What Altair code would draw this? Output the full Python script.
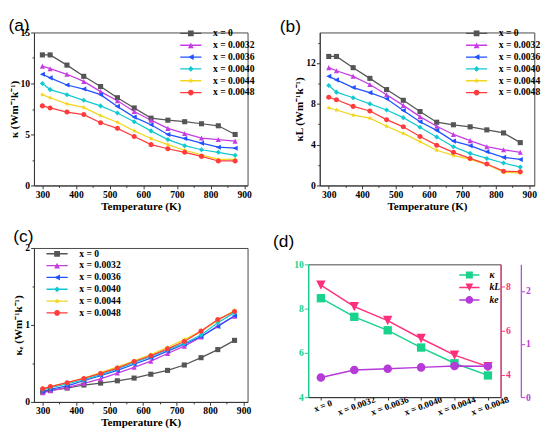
import math
import altair as alt
import pandas as pd

# ---------------- data ----------------
T = [300, 323, 373, 423, 473, 523, 573, 623, 673, 723, 773, 823, 873]
series = ["x = 0", "x = 0.0032", "x = 0.0036", "x = 0.0040", "x = 0.0044", "x = 0.0048"]

# (a) total thermal conductivity
ka_0 = [12.8, 12.8, 11.8, 10.7, 9.7, 8.6, 7.6, 6.6, 6.4, 6.25, 6.05, 5.85, 5.0]
ka_32 = [11.7, 11.45, 10.9, 10.2, 9.2, 8.3, 7.25, 6.4, 5.6, 5.1, 4.65, 4.5, 4.35]
ka_36 = [10.9, 10.55, 9.85, 9.45, 8.9, 7.75, 6.7, 5.95, 5.0, 4.6, 4.15, 3.75, 3.65]
ka_40 = [10.0, 9.4, 8.9, 8.35, 7.8, 7.1, 6.25, 5.35, 4.5, 3.9, 3.5, 3.25, 2.95]
ka_44 = [8.9, 8.6, 8.0, 7.65, 6.85, 6.2, 5.35, 4.6, 4.0, 3.45, 3.0, 2.55, 2.55]
ka_48 = [7.8, 7.6, 7.2, 6.95, 6.15, 5.6, 4.8, 4.0, 3.6, 3.25, 2.85, 2.4, 2.4]

# (b) lattice thermal conductivity
kb_0 = [12.65, 12.65, 11.55, 10.5, 9.4, 8.35, 7.25, 6.2, 5.95, 5.75, 5.45, 5.15, 4.2]
kb_32 = [11.55, 11.25, 10.7, 9.9, 8.9, 7.85, 6.75, 5.8, 5.0, 4.4, 3.8, 3.5, 3.25]
kb_36 = [10.7, 10.35, 9.6, 9.1, 8.5, 7.35, 6.25, 5.4, 4.35, 3.9, 3.3, 2.75, 2.55]
kb_40 = [9.8, 9.15, 8.6, 8.0, 7.4, 6.65, 5.7, 4.75, 3.8, 3.15, 2.65, 2.2, 1.8]
kb_44 = [7.6, 7.4, 6.9, 6.6, 5.8, 5.1, 4.3, 3.45, 2.95, 2.55, 2.05, 1.3, 1.2]
kb_48 = [8.65, 8.4, 7.75, 7.3, 6.45, 5.75, 4.8, 3.95, 3.25, 2.65, 2.1, 1.4, 1.35]

# (c) electronic thermal conductivity
kc_0 = [0.13, 0.15, 0.18, 0.22, 0.245, 0.275, 0.31, 0.36, 0.41, 0.48, 0.575, 0.68, 0.8]
kc_32 = [0.12, 0.145, 0.19, 0.24, 0.30, 0.375, 0.45, 0.53, 0.63, 0.725, 0.845, 0.99, 1.115]
kc_36 = [0.135, 0.165, 0.21, 0.275, 0.34, 0.41, 0.49, 0.57, 0.66, 0.75, 0.85, 0.98, 1.12]
kc_40 = [0.16, 0.185, 0.235, 0.29, 0.355, 0.43, 0.51, 0.59, 0.68, 0.76, 0.87, 1.03, 1.16]
kc_44 = [0.17, 0.2, 0.25, 0.31, 0.38, 0.455, 0.535, 0.615, 0.71, 0.81, 0.92, 1.06, 1.19]
kc_48 = [0.17, 0.2, 0.25, 0.305, 0.37, 0.44, 0.525, 0.6, 0.69, 0.785, 0.92, 1.07, 1.175]

# (d) values versus composition
cats = ["x = 0", "x = 0.0032", "x = 0.0036", "x = 0.0040", "x = 0.0044", "x = 0.0048"]
kd_total = [8.47, 7.63, 7.02, 6.24, 5.53, 4.98]
kd_lat = [8.06, 7.09, 6.46, 5.65, 4.90, 4.38]
kd_el = [0.37, 0.51, 0.535, 0.56, 0.585, 0.58]
d_names = ["κ", "kL", "ke"]

# ---------------- styles ----------------
colors = ["#555555", "#c63ce2", "#2152ff", "#12c9d2", "#f2d61e", "#ff3c3c"]
TEAL, PINK, PURPLE = "#17d38c", "#ff2f7c", "#b53ad8"
SERIF = "Liberation Serif"


def f(v):
    return f"{v:.3f}"


def sq(r):
    return f"M{f(-r)},{f(-r)}H{f(r)}V{f(r)}H{f(-r)}Z"


def tri_up(r):
    return f"M0,{f(-r)}L{f(r)},{f(r)}L{f(-r)},{f(r)}Z"


def tri_down(r):
    return f"M{f(-r)},{f(-r)}L{f(r)},{f(-r)}L0,{f(r)}Z"


def tri_left(r):
    return f"M{f(-r)},0L{f(r)},{f(-r)}L{f(r)},{f(r)}Z"


def diamond(r):
    return f"M0,{f(-r)}L{f(r)},0L0,{f(r)}L{f(-r)},0Z"


def star(r):
    pts = []
    for i in range(10):
        a = math.radians(-90 + 36 * i)
        rr = r if i % 2 == 0 else r * 0.45
        pts.append(f"{f(rr * math.cos(a))},{f(rr * math.sin(a))}")
    return "M" + "L".join(pts) + "Z"


def circ(r):
    return f"M{f(r)},0A{f(r)},{f(r)} 0 1,1 {f(-r)},0A{f(r)},{f(r)} 0 1,1 {f(r)},0Z"


def with_line(p, half_len, t):
    return f"M{f(-half_len)},{f(-t)}H{f(half_len)}V{f(t)}H{f(-half_len)}Z" + p


shape_fns = [sq, tri_up, tri_left, diamond, star, circ]
plot_shapes = [fn(1.0) for fn in shape_fns]
# legend symbols: size 36 -> 3 px per path unit; line 22 px long
legend_shapes = [with_line(fn(1.0), 3.667, 0.23) for fn in shape_fns]


def long_df(lists):
    rows = []
    for s, vals in zip(series, lists):
        for t, v in zip(T, vals):
            rows.append({"T": t, "v": v, "s": s})
    return pd.DataFrame(rows)


def is_major(step):
    return f"abs(datum.value / {step} - round(datum.value / {step})) < 0.001"


def tick_cond(step):
    return {"condition": {"test": is_major(step), "value": 3.5}, "value": 2}


def label_expr(step):
    return f"{is_major(step)} ? format(datum.value, '~g') : ''"


def ptitle(text, dx, offset):
    return alt.Title(text, anchor="start", frame="bounds", font="Liberation Sans",
                     fontSize=18, fontWeight="normal", offset=offset, dx=dx)


def tpanel(lists, ydom, yvals, ystep, ytitle, xdom, title, lox, loy, w, h, tdx, toff, field):
    df = long_df(lists).rename(columns={"s": field})
    fld = f"{field}:N"
    x = alt.X("T:Q", scale=alt.Scale(domain=xdom, nice=False, zero=False),
              axis=alt.Axis(values=list(range(300, 901, 50)), labelExpr=label_expr(100),
                            tickSize=tick_cond(100), title="Temperature (K)"))
    y = alt.Y("v:Q", scale=alt.Scale(domain=ydom, nice=False, zero=False),
              axis=alt.Axis(values=yvals, labelExpr=label_expr(ystep),
                            tickSize=tick_cond(ystep), title=ytitle))
    cs = alt.Scale(domain=series, range=colors)
    base = alt.Chart(df)
    lines = base.mark_line(strokeWidth=1.3).encode(
        x=x, y=y, color=alt.Color(fld, scale=cs, legend=None))
    pts = base.mark_point(filled=True, size=28, opacity=1).encode(
        x=x, y=y, color=alt.Color(fld, scale=cs, legend=None),
        shape=alt.Shape(fld, scale=alt.Scale(domain=series, range=plot_shapes), legend=None))
    leg = alt.Legend(title=None, orient="none", legendX=lox, legendY=loy,
                     symbolSize=36, symbolOffset=8, symbolOpacity=1, symbolStrokeWidth=0,
                     labelFont=SERIF, labelFontWeight="bold", labelFontSize=10,
                     labelColor="black", labelOffset=18, rowPadding=2.3, padding=0)
    dummy = alt.Chart(pd.DataFrame({field: series})).mark_point(filled=True, opacity=0).encode(
        color=alt.Color(fld, scale=cs, legend=leg),
        shape=alt.Shape(fld, scale=alt.Scale(domain=series, range=legend_shapes), legend=leg))
    return alt.layer(lines, pts, dummy).resolve_scale(
        color="independent", shape="independent").properties(
        width=w, height=h, title=ptitle(title, tdx, toff))


pa = tpanel([ka_0, ka_32, ka_36, ka_40, ka_44, ka_48], [0, 15],
            [0, 2.5, 5, 7.5, 10, 12.5, 15], 5, "κ (Wm⁻¹k⁻¹)", [275, 910], "(a)",
            150, -4, 222, 159, 0, -7, "sa")
pb = tpanel([kb_0, kb_32, kb_36, kb_40, kb_44, kb_48], [0, 15],
            [0, 2, 4, 6, 8, 10, 12, 14], 4, "κL (Wm⁻¹k⁻¹)", [273, 915], "(b)",
            150, -4, 223, 159, -15, -7, "sb")
pc = tpanel([kc_0, kc_32, kc_36, kc_40, kc_44, kc_48], [0, 2],
            [0, 0.5, 1, 1.5, 2], 1, "κₑ (Wm⁻¹k⁻¹)", [274, 912], "(c)",
            11, 1, 222, 160, 0, -3, "sc")

# ---------------- panel (d) ----------------
df_total = pd.DataFrame({"c": cats, "v": kd_total})
df_lat = pd.DataFrame({"c": cats, "v": kd_lat})
df_el = pd.DataFrame({"c": cats, "v": kd_el})

xd = alt.X("c:N", sort=cats, scale=alt.Scale(type="point", padding=0.38),
           axis=alt.Axis(title=None, labelAngle=-20, labelAlign="center", labelBaseline="top",
                         labelFontSize=9.5, labelPadding=1, tickSize=3))


def yaxis(color, orient, values, offset=0):
    return alt.Axis(orient=orient, values=values, title=None, labelColor=color,
                    domainColor=color, tickColor=color, tickSize=4, offset=offset,
                    domainWidth=1.2, labelFontSize=10)


def dlayer(df, dom, ax, color, shape, size):
    y = alt.Y("v:Q", scale=alt.Scale(domain=dom, nice=False, zero=False), axis=ax)
    ln = alt.Chart(df).mark_line(color=color, strokeWidth=1.5).encode(x=xd, y=y)
    pt = alt.Chart(df).mark_point(color=color, filled=True, opacity=1, shape=shape, size=size).encode(x=xd, y=y)
    return alt.layer(ln, pt)


l_total = dlayer(df_total, [4, 10], yaxis(TEAL, "left", [4, 6, 8, 10]), TEAL, sq(1.0), 75)
l_lat = dlayer(df_lat, [3, 9], yaxis(PINK, "right", [4, 6, 8]), PINK, tri_down(1.0), 95)
l_el = dlayer(df_el, [0, 2.5], yaxis(PURPLE, "right", [0, 1, 2], offset=21), PURPLE, circ(1.0), 80)

# legend symbols: size 64 -> 4 px per path unit; line 21 px long
legd = alt.Legend(title=None, orient="none", legendX=156, legendY=6,
                  symbolSize=64, symbolOffset=6.5, symbolOpacity=1, symbolStrokeWidth=0,
                  labelFont=SERIF, labelFontWeight="bold", labelFontStyle="italic",
                  labelFontSize=10, labelColor="black", labelOffset=16, rowPadding=3, padding=0)
d_leg_shapes = [with_line(sq(0.9), 2.625, 0.19), with_line(tri_down(1.0), 2.625, 0.19),
                with_line(circ(1.0), 2.625, 0.19)]
dummy_d = alt.Chart(pd.DataFrame({"sd": d_names})).mark_point(filled=True, opacity=0).encode(
    color=alt.Color("sd:N", scale=alt.Scale(domain=d_names, range=[TEAL, PINK, PURPLE]), legend=legd),
    shape=alt.Shape("sd:N", scale=alt.Scale(domain=d_names, range=d_leg_shapes), legend=legd))

pd_plot = alt.layer(l_total, l_lat, l_el, dummy_d).resolve_scale(
    y="independent", color="independent", shape="independent").properties(width=200, height=138)

spacer = alt.Chart(pd.DataFrame({"z": [0]})).mark_point(opacity=0).encode(
    x=alt.X("z:Q", axis=None), y=alt.Y("z:Q", axis=None)).properties(
    width=200, height=11, view=alt.ViewBackground(strokeOpacity=0))

pd_ = alt.vconcat(spacer, pd_plot, spacing=0).properties(title=ptitle("(d)", -21, -3))

row1 = alt.hconcat(pa, pb, spacing=24)
row2 = alt.hconcat(pc, pd_, spacing=22)
chart = alt.vconcat(row1, row2, spacing=16).properties(
    padding={"left": 0, "top": 0, "right": 0, "bottom": 0}
).configure_view(stroke="#444444", strokeWidth=1).configure_axis(
    labelFont=SERIF, labelFontWeight="bold", labelFontSize=10, labelColor="black",
    titleFont=SERIF, titleFontWeight="bold", titleFontSize=11.5, titleColor="black",
    domainColor="#333333", tickColor="#333333", grid=False, zindex=1, titlePadding=1,
    labelPadding=1
)

chart.save("out.html", embed_options={"renderer": "svg", "actions": False})
